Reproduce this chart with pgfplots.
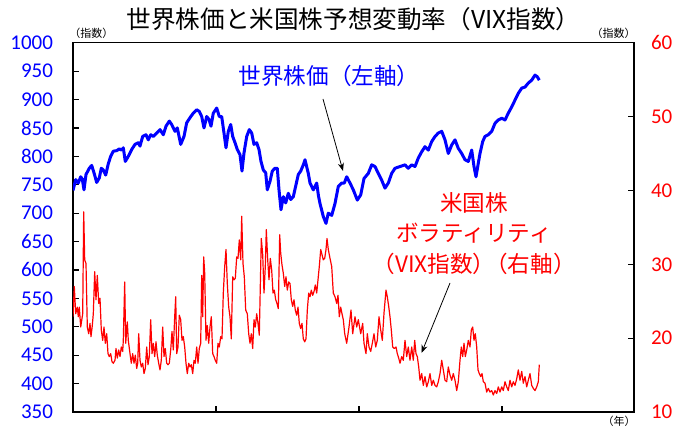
\documentclass[border=0pt]{standalone}
\usepackage{pgfplots}
\pgfplotsset{compat=1.18}
\usetikzlibrary{arrows.meta}
\usepackage{fontspec}
\setmainfont{Carlito}
\newfontfamily\jp{Noto Sans CJK JP}
\definecolor{pblue}{RGB}{0,0,255}
\definecolor{pred}{RGB}{255,0,0}

\pgfplotstableread{
x y
0 740
2.7 759
5.3 753
7.7 764
9.3 760
11 741
13 768
16.3 779
18.7 784
21 771
23.7 754
26.3 762
28.3 779
30.3 776
32.7 767
35.3 787
37.7 800
40.3 809
43.7 810
46.3 813
48.7 811
50.3 815
52.3 791
55.3 800
58.7 812
62 821
65.3 824
67 818
69.7 835
73 838
75.3 829
77.7 838
80.3 835
83.7 841
87 847
90.3 838
93 853
96.3 862
98.7 856
102 844
104.3 850
107.7 821
111 835
113.7 859
117 868
120.3 876
123.7 882
126.3 879
128.7 870
131 850
133.7 870
136 865
138 853
140.3 876
143.7 885
146.3 870
148.7 870
151 841
153 815
155.3 844
157.7 856
159.7 835
162 824
164.3 812
167 803
169 774
171 806
173.7 835
176.3 847
178.7 841
181 821
183.7 824
186 812
188 791
190.3 776
192.7 771
194.3 741
197 756
199.3 774
202 779
204.3 779
206 741
208 706
210.3 729
212.7 718
215.3 735
217.7 724
220.3 729
223 750
225.3 768
227.7 774
230.3 785
232 794
235.3 770
237 753
240.3 741
243.7 753
245.5 730
247 717
250.3 694
253 682
255.3 700
258.7 696
262 717
265.3 747
268.7 753
271.3 753
273.7 764
277 753
280.3 741
284.3 723
287.7 732
291 761
295.3 770
298.7 785
302 782
305.3 770
308.7 758
312 744
315.3 753
318.7 770
322 779
327 782
332 785
335.3 779
338.7 785
342 782
345.3 797
348.7 808
352 817
355.3 811
358.7 826
362 835
365.3 841
368.7 844
372 829
375.3 805
378.7 820
382 829
385.3 814
388.7 805
392 794
395.3 791
398.7 811
401 782
403 764
405.3 788
407 805
409.7 826
412 835
415.3 838
418.7 844
422 858
425.3 864
428.7 867
432 864
435.3 876
438.7 887
442 899
445.3 911
448.7 920
452 922
455.3 929
458.7 934
462 943
464.3 940
466.3 934
}\world

\pgfplotstableread{
x y
0 22.9
1.3 27.0
2.7 23.3
4.3 24.2
5.3 22.9
6.3 24.2
7.7 21.5
9.7 23.3
10.7 37.1
11.7 30.6
13 30.1
14.3 21.5
15.7 20.6
17 22.0
18 20.2
19.3 21.7
20.3 23.3
21.7 29.0
23 25.2
24.3 28.5
25.7 24.7
27 25.4
28.3 21.1
29.7 19.7
31 21.5
32.3 19.3
33.7 20.6
35 17.9
36.3 17.5
37.7 17.9
39 16.8
40.3 16.6
42 17.0
43 18.6
44.3 17.3
45.7 18.4
47 17.5
48.3 18.8
49.7 18.2
50.3 19.7
51.7 27.6
52.7 19.3
54.3 22.2
55.3 19.7
57 17.9
58.3 16.6
59.7 17.9
61 16.6
62.3 17.7
63.7 15.9
64.7 16.6
65.7 20.6
67 17.0
68.3 16.1
69.7 16.6
71 15.2
72.3 15.9
73.7 18.8
75 16.4
76.3 17.5
77.7 22.5
79 17.9
80.3 19.3
81.7 17.5
83 19.5
84.3 17.7
85.7 16.6
87 15.7
88.3 17.0
89.7 21.5
91 17.5
92.3 18.6
93.7 16.6
95 16.4
96.3 16.6
97.7 18.4
99 20.9
100.3 18.4
101.7 22.9
102.7 25.6
103.7 17.9
105 18.8
106.3 23.1
107.7 22.5
109 19.7
110.3 20.2
111.7 18.8
113 16.6
114.3 15.2
115.7 16.6
117 16.1
118.3 16.4
119.7 15.2
121 17.0
122.3 16.6
123.7 18.8
125 16.6
126.3 18.6
127.7 19.3
128.7 28.5
129.7 22.9
130.7 31.0
131.7 28.8
133 19.7
134.3 21.7
135.7 19.3
137 21.5
138.3 22.9
139.7 17.9
141 17.5
142.3 17.0
143.7 16.6
145 19.3
146.3 18.8
147.7 20.2
149 19.9
150.3 26.1
151.7 29.7
153 32.0
154.3 27.4
155.7 24.2
157 22.9
158.3 19.9
159.7 28.3
161 27.9
162.3 28.1
163.7 31.0
165 30.8
166.3 33.3
167.7 30.6
168.7 36.5
170 30.1
171.3 28.3
172.7 23.8
174.3 23.3
175.7 20.6
177 19.3
178.3 20.6
179.7 18.6
181 22.5
182.3 21.5
183.7 23.3
185 22.0
186.3 20.4
187.3 27.0
188.3 33.5
189.7 31.3
191 26.1
192.3 29.7
193.3 34.7
194.7 30.6
196 27.9
197.3 30.8
198.7 29.2
200 26.1
201.3 26.5
202.7 25.2
204 24.7
205.3 24.0
206.7 34.0
207.7 31.5
209 29.9
210.3 28.8
211.7 27.0
213 28.3
214.3 26.5
215.7 27.6
217 27.4
218.3 25.2
219.7 24.3
221 25.2
222.3 23.8
223.7 23.1
225 24.2
226.3 22.0
227.7 21.3
229 22.0
230.3 19.9
231.7 19.5
233 19.9
234.3 23.8
235.7 26.1
237 25.6
238.3 26.5
239.7 25.8
241 26.3
242.3 27.2
243.7 26.1
245 27.9
246.3 29.7
247.7 32.0
249 31.3
250.3 30.6
251.7 30.8
253 32.0
254 33.5
255.3 32.0
257 30.8
258.7 29.7
260.3 26.1
262 25.6
263.7 24.7
265 25.8
266.3 22.9
267.7 24.2
269 23.3
270.3 22.5
271.7 20.6
273.7 19.3
276 21.5
278 23.8
279.7 20.6
282 22.9
283.7 21.5
285.3 22.5
287.7 20.6
289.7 22.0
291 19.3
293 17.9
294.3 20.6
296 18.8
297.7 18.2
299.3 19.3
301 20.6
302.7 18.8
304.3 19.7
306 22.9
307.7 21.1
309.3 19.7
311 23.4
313 26.5
314.3 25.6
315.7 24.3
317 22.9
318.3 21.1
319.7 18.8
321.3 18.6
323 18.8
324.3 17.9
325.7 17.3
327 16.6
328.7 17.5
330.3 17.0
332 19.7
333.7 17.5
335.3 18.8
337 17.0
338.7 18.8
340.3 17.0
341.7 19.7
343 17.9
344.3 17.5
345.7 16.1
347 14.3
348.7 15.2
350.3 13.6
352 14.8
353.7 13.4
355.3 14.1
357 15.2
358.7 13.6
360.3 14.3
362 13.6
363.7 13.4
365.3 14.1
367 15.2
368.7 17.0
370.3 15.7
372 14.3
373.7 14.1
375.3 16.1
377 15.0
378.7 14.3
380.3 15.2
382 14.3
383.7 12.9
385.3 14.1
387 17.0
388.3 18.8
389.7 17.5
391 19.3
392.3 17.5
393.7 18.4
395.3 19.7
397 18.8
398.3 21.1
399.7 21.5
401 19.7
402.3 20.6
403.7 18.8
405 15.7
406.3 15.2
407.7 14.8
409 15.2
410.3 14.1
412 13.9
413.7 12.7
415.3 13.2
417 12.7
418.7 12.9
420.3 12.3
422 12.9
423.7 12.5
425.3 13.4
427 12.7
428.7 13.4
430.3 12.9
432 14.1
433.7 13.4
435.3 12.9
437 14.3
438.7 13.4
440.3 14.1
442 13.6
443.7 14.5
445.3 15.7
447 14.3
448.7 15.5
450.3 13.9
452 14.8
453.7 13.4
455.3 14.3
457 15.2
458.7 13.6
460.3 13.2
462 12.9
463.7 13.4
465.3 14.1
466.3 16.4
}\vix

\begin{document}
\begin{tikzpicture}
\useasboundingbox (-36.5pt,-10pt) rectangle (303pt,206pt);
\begin{axis}[
  scale only axis, width=280.5pt, height=184.65pt,
  xmin=0, xmax=561, ymin=350, ymax=1000,
  xtick={143,286,429}, xticklabels={}, xtick pos=bottom,
  ytick={350,400,...,1000}, ytick pos=left,
  tick align=inside, major tick length=3pt,
  tick style={black, line width=0.6pt},
  axis line style={line width=0.7pt},
  yticklabel style={font=\fontsize{10.5}{12}\selectfont, text=pblue, xshift=-6.5pt},
  /pgf/number format/assume math mode=true,
  /pgf/number format/1000 sep={},
]
\addplot[pblue, line width=1.5pt, line join=round] table[x=x,y=y] {\world};
\end{axis}
\begin{axis}[
  scale only axis, width=280.5pt, height=184.65pt,
  xmin=0, xmax=561, ymin=10, ymax=60,
  axis x line=none, axis y line*=right,
  ytick={10,20,...,60},
  tick align=inside, major tick length=3pt,
  tick style={black, line width=0.6pt},
  axis line style={line width=0.7pt},
  yticklabel style={font=\fontsize{10.5}{12}\selectfont, text=pred, xshift=5pt},
  /pgf/number format/assume math mode=true,
]
\addplot[pred, line width=0.6pt, line join=round] table[x=x,y=y] {\vix};
\end{axis}
\begin{scope}[x=0.5pt, y=-0.5pt, shift={(-36.5pt,206pt)}]
\node[font=\jp\fontsize{12.3}{14}\selectfont, inner sep=0] at (353.5,19) {世界株価と米国株予想変動率（VIX指数）};
\node[font=\jp\fontsize{5.5}{6}\selectfont, anchor=base west, inner sep=0] at (69,38) {（指数）};
\node[font=\jp\fontsize{5.5}{6}\selectfont, anchor=base east, inner sep=0] at (636,38) {（指数）};
\node[font=\jp\fontsize{5.5}{6}\selectfont, anchor=base east, inner sep=0] at (636,426) {（年）};
\node[font=\jp\fontsize{11.3}{13}\selectfont, text=pblue, inner sep=0] at (329,76) {世界株価（左軸）};
\node[font=\jp\fontsize{11.3}{13}\selectfont, text=pred, inner sep=0] at (474,203) {米国株};
\node[font=\jp\fontsize{11.3}{13}\selectfont, text=pred, inner sep=0] at (474,233) {ボラティリティ};
\node[font=\jp\fontsize{11.3}{13}\selectfont, text=pred, inner sep=0] at (474,264) {（VIX指数）\kern-0.45em（右軸）};
\draw[-{Stealth[length=4pt,width=3pt]}, line width=0.4pt] (323,99) -- (343,171);
\draw[-{Stealth[length=4pt,width=3pt]}, line width=0.4pt] (450,283) -- (421.5,353);
\end{scope}
\end{tikzpicture}
\end{document}
